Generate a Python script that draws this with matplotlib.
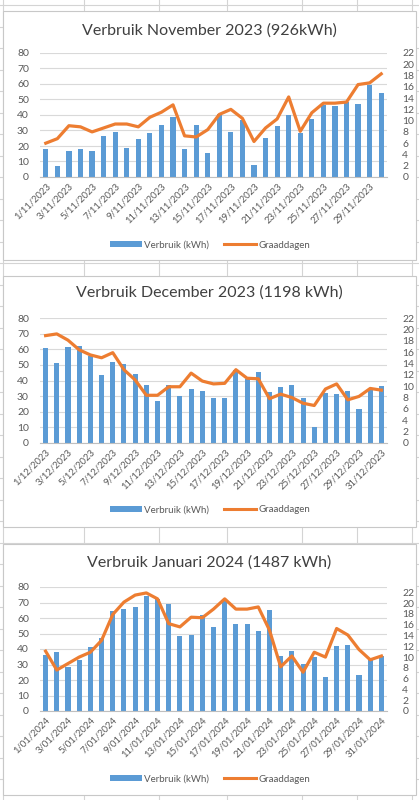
import numpy as np
import matplotlib
matplotlib.use('Agg')
import matplotlib.pyplot as plt
from matplotlib.lines import Line2D
from matplotlib.patches import Rectangle, Patch

plt.rcParams['font.family'] = ['Lato', 'DejaVu Sans']

# --- data ---
nov_kwh = [18.3, 6.9, 17, 18.3, 17, 26.7, 29.2, 18.7, 24.5, 28.4,
           33.5, 38.7, 18.3, 33.5, 15.3, 40.9, 29.2, 36.6, 8, 25.4,
           32.7, 40, 28.2, 37.4, 46.2, 45.8, 48.2, 47.2, 59.1, 54]
nov_gd = [6.0, 6.8, 9.1, 8.9, 8.0, 8.7, 9.4, 9.4, 8.9, 10.6,
          11.5, 12.8, 7.3, 7.1, 8.4, 11.1, 12.0, 10.4, 6.3, 8.7,
          10.3, 14.2, 8.1, 11.4, 13.1, 13.1, 13.3, 16.4, 16.7, 18.3]

dec_kwh = [60.7, 51, 61.2, 62, 55.5, 43.3, 51.7, 50.4, 44, 37.3,
           26.8, 36.9, 29.8, 34.3, 33.5, 29, 29, 46.8, 41, 45.3,
           32.4, 35.6, 36.9, 28.5, 10.3, 32.2, 31.5, 33.3, 21.5, 33.9, 36.3]
dec_gd = [18.9, 19.2, 18.1, 16.4, 15.5, 15.0, 15.9, 12.9, 11.1, 8.4,
          8.4, 9.9, 9.9, 12.3, 10.9, 10.4, 10.5, 12.9, 11.4, 11.3,
          7.8, 8.6, 8.0, 7.0, 6.6, 9.5, 10.4, 7.6, 8.2, 9.6, 9.3]

jan_kwh = [36.1, 38, 28.4, 32.9, 41.5, 47.3, 64.5, 65.8, 66.9, 74,
           72.3, 69, 48.2, 48.8, 62, 54, 71.2, 56, 56, 51.8,
           65.4, 35.3, 38.5, 30.1, 34.8, 21.9, 41.9, 42.6, 23.2, 33.5, 35.7]
jan_gd = [11.1, 7.6, 8.8, 10.0, 10.9, 13.1, 17.9, 20.2, 21.5, 21.9,
          20.8, 16.2, 15.6, 17.4, 17.3, 18.9, 20.8, 18.9, 18.9, 19.3,
          15.0, 8.2, 10.2, 7.2, 10.9, 10.0, 15.3, 14.1, 11.4, 9.5, 10.2]

nov_days = [f'{d}/11/2023' for d in range(1, 31)]
dec_days = [f'{d}/12/2023' for d in range(1, 32)]
jan_days = [f'{d}/01/2024' for d in range(1, 32)]

titles = ['Verbruik November 2023 (926kWh)',
          'Verbruik December 2023 (1198 kWh)',
          'Verbruik Januari 2024 (1487 kWh)']

W, H = 419, 800
fig = plt.figure(figsize=(W / 100, H / 100), dpi=100)
fig.patch.set_facecolor('white')

def fx(px):
    return px / W

def fy(py):
    return 1 - py / H

# excel sheet grid in the background
grid_col = '#D4D4D4'
for r in np.arange(5, 801, 21.5):
    fig.add_artist(Line2D([0, 1], [fy(r), fy(r)], transform=fig.transFigure,
                          color=grid_col, lw=0.8, zorder=0))
for c in [3, 84, 159, 227, 302, 357, 412]:
    fig.add_artist(Line2D([fx(c), fx(c)], [0, 1], transform=fig.transFigure,
                          color=grid_col, lw=0.8, zorder=0))

blue = '#5B9BD5'
orange = '#ED7D31'
txt = '#595959'

# (panel top, panel bottom, plot top, plot bottom, title y, legend y, right max)
panels = [
    (11, 260, 53, 177, 31, 245, 22, nov_days, nov_kwh, nov_gd),
    (276, 527, 318, 443, 293, 510, 22, dec_days, dec_kwh, dec_gd),
    (544, 795, 587, 711, 563, 779, 23, jan_days, jan_kwh, jan_gd),
]

for i, (pt, pb, at, ab, ty, ly, rmax, days, kwh, gd) in enumerate(panels):
    fig.add_artist(Rectangle((fx(3), fy(pb)), fx(413), (pb - pt) / H,
                             transform=fig.transFigure, facecolor='white',
                             edgecolor='#C8C8C8', lw=0.8, zorder=1))
    ax = fig.add_axes([fx(40), fy(ab), fx(347), (ab - at) / H], zorder=2)
    ax.patch.set_alpha(0)
    x = np.arange(len(days))
    ax.bar(x, kwh, width=0.45, color=blue, zorder=2)
    ax.set_xlim(-0.5, len(days) - 0.5)
    ax.set_ylim(0, 80)
    ax.set_yticks(range(0, 81, 10))
    ax.grid(axis='y', color='#D9D9D9', lw=0.8, zorder=0)
    ax.set_axisbelow(True)
    for s in ['top', 'right', 'left']:
        ax.spines[s].set_visible(False)
    ax.spines['bottom'].set_color('#BFBFBF')
    ax.tick_params(axis='y', length=0, labelsize=7.5, labelcolor=txt, pad=8)
    ax.set_xticks(x[::2])
    ax.set_xticklabels(days[::2], rotation=45, ha='right', rotation_mode='anchor',
                       fontsize=6.8, color=txt)
    ax.tick_params(axis='x', length=0, pad=3)

    ax2 = ax.twinx()
    ax2.plot(x, gd, color=orange, lw=2.3, solid_joinstyle='round', zorder=3)
    ax2.set_ylim(0, rmax)
    ax2.set_yticks(range(0, 23, 2))
    for s in ['top', 'right', 'left', 'bottom']:
        ax2.spines[s].set_visible(False)
    ax2.tick_params(axis='y', length=0, labelsize=7.5, labelcolor=txt, pad=11)

    fig.text(fx(209), fy(ty), titles[i], ha='center', va='center',
             fontsize=11.5, color='#404040', zorder=3)

    handles = [Patch(facecolor=blue, edgecolor='none'),
               Line2D([0], [0], color=orange, lw=2.2)]
    fig.legend(handles, ['Verbruik (kWh)', 'Graaddagen'], loc='center',
               bbox_to_anchor=(fx(210), fy(ly)), ncol=2, frameon=False,
               fontsize=7, labelcolor=txt, handlelength=3.3, handleheight=0.5,
               columnspacing=1.6, handletextpad=0.2)

fig.savefig('out.png', dpi=100)
